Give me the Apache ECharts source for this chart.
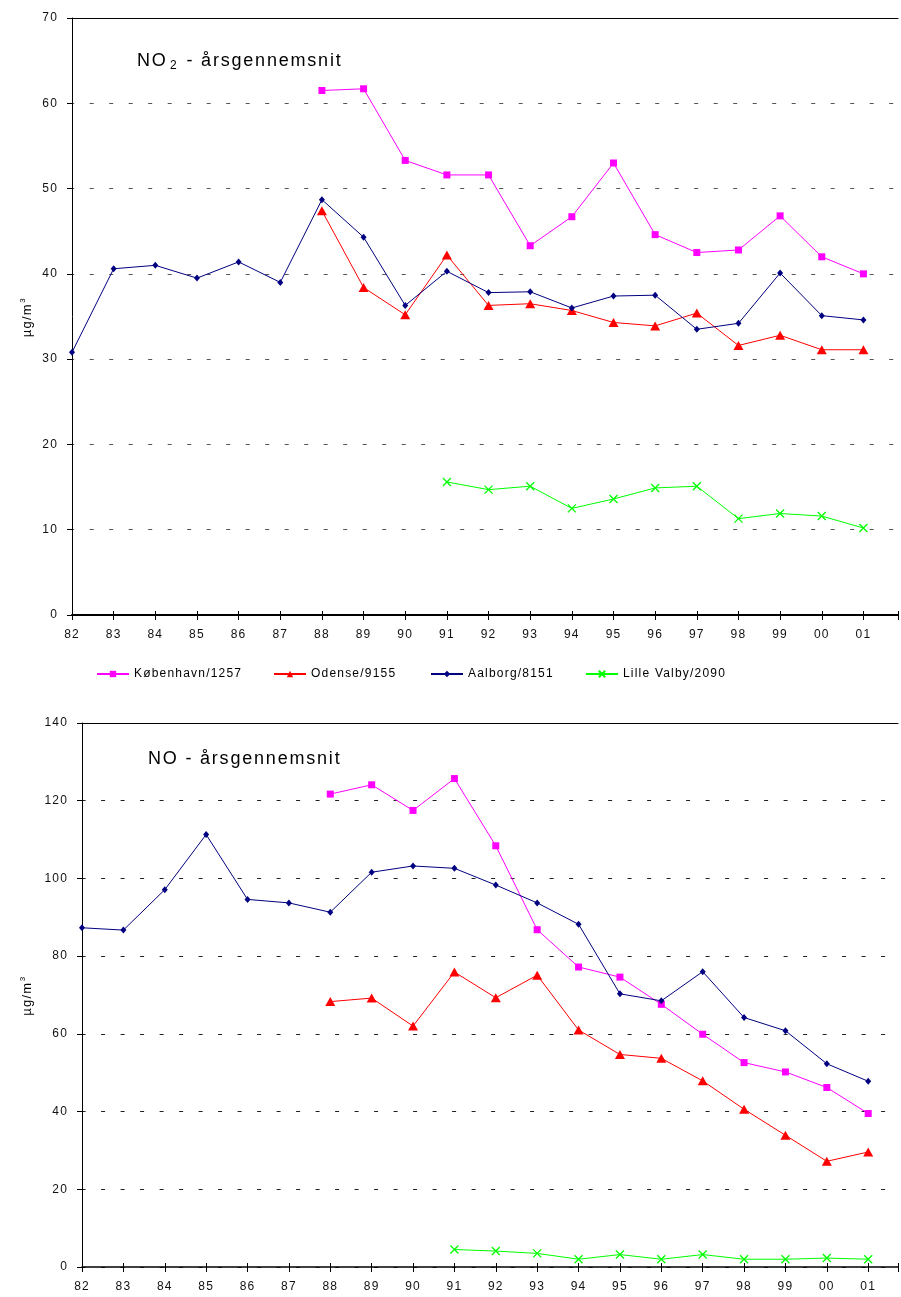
<!DOCTYPE html>
<html>
<head>
<meta charset="utf-8">
<script src="https://cdn.jsdelivr.net/npm/echarts@6/dist/echarts.min.js"></script>
<style>
  html, body { margin: 0; padding: 0; background: #fff; }
  #chart { width: 901px; height: 1297px; }
</style>
</head>
<body>
<div id="chart"></div>
<script>
// Years on the x axis (two-digit labels)
const years = ['82','83','84','85','86','87','88','89','90','91','92','93','94','95','96','97','98','99','00','01'];

// NO2 annual means, µg/m3
const no2Kbh    = [null,null,null,null,null,null,61.5,61.7,53.3,51.6,51.6,43.3,46.7,53.0,44.6,42.5,42.8,46.8,42.0,40.0];
const no2Odense = [null,null,null,null,null,null,47.4,38.4,35.2,42.2,36.3,36.5,35.7,34.3,33.9,35.4,31.6,32.8,31.1,31.1];
const no2Aalb   = [30.8,40.6,41.0,39.5,41.4,39.0,48.7,44.3,36.3,40.3,37.8,37.9,36.0,37.4,37.5,33.5,34.2,40.1,35.1,34.6];
const no2Lille  = [null,null,null,null,null,null,null,null,null,15.6,14.7,15.1,12.5,13.6,14.9,15.1,11.3,11.9,11.6,10.2];

// NO annual means, µg/m3
const noKbh     = [null,null,null,null,null,null,121.7,124.1,117.5,125.7,108.4,86.8,77.2,74.6,67.6,59.9,52.6,50.2,46.2,39.5];
const noOdense  = [null,null,null,null,null,null,68.3,69.2,62.0,75.9,69.3,75.1,61.0,54.7,53.7,47.9,40.6,33.9,27.2,29.6];
const noAalb    = [87.3,86.7,97.1,111.3,94.6,93.7,91.3,101.6,103.2,102.6,98.3,93.7,88.2,70.3,68.5,76.0,64.2,60.8,52.3,47.8];
const noLille   = [null,null,null,null,null,null,null,null,null,4.5,4.1,3.5,2.0,3.2,2.0,3.2,2.0,2.0,2.3,2.0];

const stationNames = ['København/1257', 'Odense/9155', 'Aalborg/8151', 'Lille Valby/2090'];
const chartTitles = ['NO{sub|2} - årsgennemsnit', 'NO - årsgennemsnit'];
const unitLabel = 'µg/m{sup|3}';

const FONT = "'Liberation Sans', Arial, Helvetica, sans-serif";
const COLORS = ['#FF00FF', '#FF0000', '#000080', '#00FF00'];
const CROSS = 'path://M0,0L10,10M0,10L10,0';

// widely tracked lettering: a little extra space between glyphs, more for the headings
(function () {
  const proto = CanvasRenderingContext2D.prototype;
  if (!('letterSpacing' in proto)) return;
  const baseFill = proto.fillText;
  proto.fillText = function (text, x, y, maxWidth) {
    const m = /(\d+(?:\.\d+)?)px/.exec(this.font);
    const size = m ? parseFloat(m[1]) : 12;
    this.letterSpacing = size >= 17 ? '1.8px' : (size >= 11 ? '1.2px' : '0px');
    return maxWidth === undefined
      ? baseFill.call(this, text, x, y)
      : baseFill.call(this, text, x, y, maxWidth);
  };
})();

const toPoints = arr => arr.map((v, i) => v == null ? null : [i, v]).filter(Boolean);

// three x axes per grid: labelled bottom axis, inner tick marks, and a top frame line
function xAxesFor(gridIndex, max, lineWidth) {
  return [
    {
      type: 'value', gridIndex, min: 0, max, interval: 1, position: 'bottom',
      axisLine: { show: true, onZero: false, lineStyle: { color: '#000', width: lineWidth } },
      axisTick: { show: true, length: 5, lineStyle: { color: '#000', width: 1 } },
      axisLabel: {
        margin: 14, color: '#111', fontSize: 12, fontFamily: FONT,
        formatter: v => (Number.isInteger(v) && years[v] !== undefined) ? years[v] : ''
      },
      splitLine: { show: false }
    },
    {
      type: 'value', gridIndex, min: 0, max, interval: 1, position: 'bottom',
      axisLine: { show: false },
      axisTick: { show: true, inside: true, length: 4, lineStyle: { color: '#000', width: 1 } },
      axisLabel: { show: false },
      splitLine: { show: false }
    },
    {
      type: 'value', gridIndex, min: 0, max, interval: 1, position: 'top',
      axisLine: { show: true, onZero: false, lineStyle: { color: '#000', width: 1 } },
      axisTick: { show: false },
      axisLabel: { show: false },
      splitLine: { show: false }
    }
  ];
}

function yAxisFor(gridIndex, max, interval, nameGap, dashOffset, gridColor) {
  return {
    type: 'value', gridIndex, min: 0, max, interval,
    name: unitLabel, nameLocation: 'middle', nameRotate: 90, nameGap,
    nameTextStyle: {
      color: '#000', fontSize: 13, fontFamily: FONT,
      rich: { sup: { fontSize: 8, fontFamily: FONT, color: '#000', padding: [0, 0, 9, 3] } }
    },
    axisLine: { show: true, lineStyle: { color: '#000', width: 1 } },
    axisTick: { show: true, length: 5, lineStyle: { color: '#000' } },
    axisLabel: { margin: 14, color: '#111', fontSize: 12, fontFamily: FONT },
    splitLine: { show: true, lineStyle: { color: gridColor, width: 1, type: [4, 15.5], dashOffset } }
  };
}

function seriesFor(name, arr, xi, yi, color, symbol, size, stroke) {
  return {
    type: 'line', name, xAxisIndex: xi, yAxisIndex: yi,
    data: toPoints(arr),
    symbol, symbolSize: size, showSymbol: true, color,
    lineStyle: { width: 1, color },
    itemStyle: stroke ? { color, borderColor: color, borderWidth: 1.3 } : { color, borderWidth: 0 },
    emphasis: { disabled: true },
    animation: false, z: 3
  };
}

function seriesSet(kbh, ode, aal, lil, xi, yi) {
  return [
    seriesFor(stationNames[0], kbh, xi, yi, COLORS[0], 'rect', 7, false),
    seriesFor(stationNames[1], ode, xi, yi, COLORS[1], 'triangle', [10, 9], false),
    seriesFor(stationNames[2], aal, xi, yi, COLORS[2], 'diamond', [6, 7], false),
    seriesFor(stationNames[3], lil, xi, yi, COLORS[3], CROSS, 8, true)
  ];
}

const legendLefts = [96, 273, 430, 585];

const option = {
  backgroundColor: '#fff',
  animation: false,
  title: [
    {
      text: chartTitles[0], left: 137, top: 50, padding: 0,
      textStyle: {
        color: '#000', fontSize: 18, fontWeight: 'normal', fontFamily: FONT,
        rich: { sub: { fontSize: 12, fontFamily: FONT, color: '#000', padding: [10, 3, 0, 6] } }
      }
    },
    {
      text: chartTitles[1], left: 148, top: 750, padding: 0,
      textStyle: { color: '#000', fontSize: 18, fontWeight: 'normal', fontFamily: FONT }
    }
  ],
  legend: stationNames.map((n, i) => ({
    data: [n], left: legendLefts[i], top: 668, padding: 0,
    itemWidth: 32, itemHeight: 8, itemGap: 5,
    selectedMode: false,
    textStyle: { color: '#000', fontSize: 12, fontFamily: FONT }
  })),
  grid: [
    { left: 72, top: 18, right: 0, height: 597, containLabel: false },
    { left: 82, top: 723, right: 0, height: 544, containLabel: false }
  ],
  xAxis: [
    ...xAxesFor(0, 19.83, 2),
    ...xAxesFor(1, 19.72, 1.5)
  ],
  yAxis: [
    yAxisFor(0, 70, 10, 36, 1.8, '#555'),
    yAxisFor(1, 140, 20, 46, 0.4, '#222')
  ],
  series: [
    ...seriesSet(no2Kbh, no2Odense, no2Aalb, no2Lille, 0, 0),
    ...seriesSet(noKbh, noOdense, noAalb, noLille, 3, 1)
  ]
};

const chart = echarts.init(document.getElementById('chart'), null, { renderer: 'canvas' });
chart.setOption(option);
</script>
</body>
</html>
